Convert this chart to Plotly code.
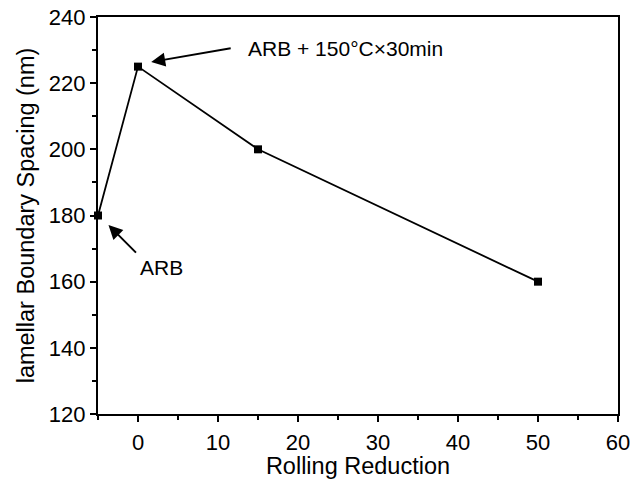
import plotly.graph_objects as go

rolling = [-5, 0, 15, 50]
spacing = [180, 225, 200, 160]
x_ticks = [0, 10, 20, 30, 40, 50, 60]
y_ticks = [120, 140, 160, 180, 200, 220, 240]

FONT = "Liberation Sans, Arial, sans-serif"

fig = go.Figure()
fig.add_trace(go.Scatter(
    x=rolling, y=spacing, mode="lines+markers",
    line=dict(color="black", width=1.8),
    marker=dict(symbol="square", size=8, color="black"),
    showlegend=False, cliponaxis=False,
))

axis_common = dict(
    showline=True, linecolor="black", linewidth=2.2, mirror=True,
    ticks="outside", ticklen=6, tickwidth=1.5, tickcolor="black",
    showgrid=False, zeroline=False, automargin=False,
    tickfont=dict(family=FONT, size=22, color="black"),
)

fig.update_xaxes(
    range=[-5, 60], tickvals=x_ticks,
    minor=dict(ticks="outside", ticklen=4, tickwidth=1.5, tickcolor="black", dtick=5, tick0=0),
    title=dict(text="Rolling Reduction", font=dict(family=FONT, size=23.5, color="black"), standoff=6),
    ticklabelstandoff=1,
    **axis_common,
)
fig.update_yaxes(
    range=[120, 240], tickvals=y_ticks,
    minor=dict(ticks="outside", ticklen=4, tickwidth=1.5, tickcolor="black", dtick=10, tick0=0),
    title=dict(text="lamellar Boundary Spacing (nm)", font=dict(family=FONT, size=23.5, color="black"), standoff=8),
    **axis_common,
)

# arrows
fig.add_annotation(x=1.65, y=226.4, xref="x", yref="y", text="", showarrow=True,
                   ax=81, ay=-14, arrowhead=2, arrowsize=1.4, arrowwidth=2, arrowcolor="black")
fig.add_annotation(x=-3.69, y=177.1, xref="x", yref="y", text="", showarrow=True,
                   ax=29, ay=29, arrowhead=2, arrowsize=1.4, arrowwidth=2, arrowcolor="black")
# labels
fig.add_annotation(x=13.56, y=230.5, xref="x", yref="y", text="ARB + 150°C×30min",
                   showarrow=False, xanchor="left", yanchor="middle",
                   font=dict(family=FONT, size=21, color="black"))
fig.add_annotation(x=0, y=164.4, xref="x", yref="y", text="ARB",
                   showarrow=False, xanchor="left", yanchor="middle",
                   font=dict(family=FONT, size=21, color="black"))

fig.update_layout(
    width=642, height=479,
    margin=dict(l=98, r=24, t=17, b=65),
    paper_bgcolor="white", plot_bgcolor="white",
)

fig.write_html("out.html")
